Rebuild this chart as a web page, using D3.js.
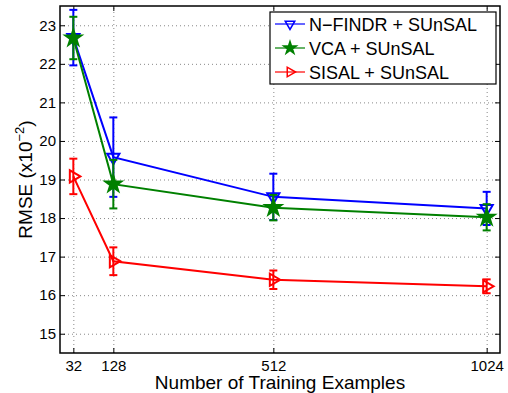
<!DOCTYPE html>
<html><head><meta charset="utf-8">
<script src="https://cdn.jsdelivr.net/npm/d3@7"></script>
<style>
html,body{margin:0;padding:0;background:#fff;}
svg{display:block;font-family:"Liberation Sans",Arial,Helvetica,sans-serif;}
</style></head>
<body><div id="chart"></div>
<script>
const xValues = [32, 128, 512, 1024];
const xTicks = [32, 128, 512, 1024];
const yTicks = [15, 16, 17, 18, 19, 20, 21, 22, 23];
const seriesNames = ["N\u2212FINDR + SUnSAL", "VCA + SUnSAL", "SISAL + SUnSAL"];
const nfindrMean = [22.68, 19.58, 18.55, 18.25];
const nfindrErr = [0.72, 1.03, 0.60, 0.43];
const vcaMean = [22.67, 18.88, 18.27, 18.02];
const vcaErr = [0.55, 0.63, 0.33, 0.34];
const sisalMean = [19.08, 16.88, 16.40, 16.23];
const sisalErr = [0.46, 0.36, 0.24, 0.18];
const colors = ["#0000ff", "#008000", "#ff0000"];
const markers = ["triDown", "star", "triRight"];

const W = 508, H = 393;
const m = {left: 60, right: 8, top: 6, bottom: 40};
const iw = W - m.left - m.right, ih = H - m.top - m.bottom;

const svg = d3.select("#chart").append("svg").attr("width", W).attr("height", H);
const g = svg.append("g").attr("transform", `translate(${m.left},${m.top})`);

const x = d3.scaleLinear().domain([0, 1056]).range([0, iw]);
const y = d3.scaleLinear().domain([14.5, 23.5]).range([ih, 0]);

// grid
g.append("g").attr("class", "grid")
  .call(d3.axisLeft(y).tickValues(yTicks).tickSize(-iw).tickFormat(""))
  .call(s => s.select(".domain").remove())
  .call(s => s.selectAll("line").attr("stroke", "#888").attr("stroke-dasharray", "1,3"));
g.append("g").attr("class", "grid").attr("transform", `translate(0,${ih})`)
  .call(d3.axisBottom(x).tickValues(xTicks).tickSize(-ih).tickFormat(""))
  .call(s => s.select(".domain").remove())
  .call(s => s.selectAll("line").attr("stroke", "#888").attr("stroke-dasharray", "1,3"));

// axes
const axFont = s => s.selectAll("text").attr("font-size", 15).attr("fill", "#000").attr("font-family", "Liberation Sans, Arial, sans-serif");
g.append("g").attr("transform", `translate(0,${ih})`)
  .call(d3.axisBottom(x).tickValues(xTicks).tickFormat(d3.format("d")).tickSize(-5).tickPadding(7).tickSizeOuter(0))
  .call(axFont).call(s => s.select(".domain").remove());
g.append("g")
  .call(d3.axisTop(x).tickValues(xTicks).tickSize(-5).tickFormat("").tickSizeOuter(0))
  .call(s => s.select(".domain").remove());
g.append("g")
  .call(d3.axisLeft(y).tickValues(yTicks).tickSize(-5).tickPadding(4).tickSizeOuter(0))
  .call(axFont).call(s => s.select(".domain").remove());
g.append("g").attr("transform", `translate(${iw},0)`)
  .call(d3.axisRight(y).tickValues(yTicks).tickSize(-5).tickFormat("").tickSizeOuter(0))
  .call(s => s.select(".domain").remove());
g.append("rect").attr("width", iw).attr("height", ih).attr("fill", "none")
  .attr("stroke", "#000").attr("stroke-width", 1.5);

function markerPath(type, r) {
  if (type === "triDown") return `M${-r*0.87},${-r/2}L${r*0.87},${-r/2}L0,${r}Z`;
  if (type === "triRight") return `M${r},0L${-r/2},${-r*0.87}L${-r/2},${r*0.87}Z`;
  return d3.symbol().type(d3.symbolStar).size(r * r * 1.6)();
}

const series = [
  {mean: nfindrMean, err: nfindrErr},
  {mean: vcaMean, err: vcaErr},
  {mean: sisalMean, err: sisalErr}
];
const line = d3.line().x(d => x(d.x)).y(d => y(d.m));
series.forEach((s, i) => {
  const pts = xValues.map((xv, j) => ({x: xv, m: s.mean[j], e: s.err[j]}));
  const sg = g.append("g");
  sg.append("path").datum(pts).attr("d", line).attr("fill", "none")
    .attr("stroke", colors[i]).attr("stroke-width", 2);
  const eb = sg.selectAll(".eb").data(pts).join("g");
  eb.append("line").attr("x1", d => x(d.x)).attr("x2", d => x(d.x))
    .attr("y1", d => y(d.m - d.e)).attr("y2", d => y(d.m + d.e))
    .attr("stroke", colors[i]).attr("stroke-width", 2);
  [-1, 1].forEach(sign => {
    eb.append("line").attr("x1", d => x(d.x) - 4).attr("x2", d => x(d.x) + 4)
      .attr("y1", d => y(d.m + sign * d.e)).attr("y2", d => y(d.m + sign * d.e))
      .attr("stroke", colors[i]).attr("stroke-width", 2);
  });
  sg.selectAll(".mk").data(pts).join("path")
    .attr("transform", d => `translate(${x(d.x)},${y(d.m)})`)
    .attr("d", markerPath(markers[i], 7))
    .attr("fill", markers[i] === "star" ? colors[i] : "none")
    .attr("stroke", colors[i]).attr("stroke-width", 2);
});

// legend
const lg = svg.append("g").attr("transform", "translate(270,12)");
lg.append("rect").attr("width", 226).attr("height", 72).attr("fill", "#fff")
  .attr("stroke", "#000").attr("stroke-width", 1.2);
seriesNames.forEach((n, i) => {
  const cy = 12 + i * 24;
  lg.append("line").attr("x1", 5).attr("x2", 35).attr("y1", cy).attr("y2", cy)
    .attr("stroke", colors[i]).attr("stroke-width", 1.2);
  lg.append("path").attr("transform", `translate(20,${cy})`).attr("d", markerPath(markers[i], 5.5))
    .attr("fill", markers[i] === "star" ? colors[i] : "none")
    .attr("stroke", colors[i]).attr("stroke-width", 1.5);
  lg.append("text").attr("x", 39).attr("y", cy + 6.5).attr("font-size", 18).text(n);
});

// axis labels
svg.append("text").attr("x", m.left + iw / 2).attr("y", 389).attr("text-anchor", "middle")
  .attr("font-size", 19).text("Number of Training Examples");
const yl = svg.append("text").attr("transform", `translate(32,${m.top + ih / 2}) rotate(-90)`)
  .attr("text-anchor", "middle").attr("font-size", 19);
yl.append("tspan").text("RMSE (x10");
yl.append("tspan").attr("font-size", 13).attr("dy", -8).text("\u22122");
yl.append("tspan").attr("dy", 8).text(")");
</script></body></html>
